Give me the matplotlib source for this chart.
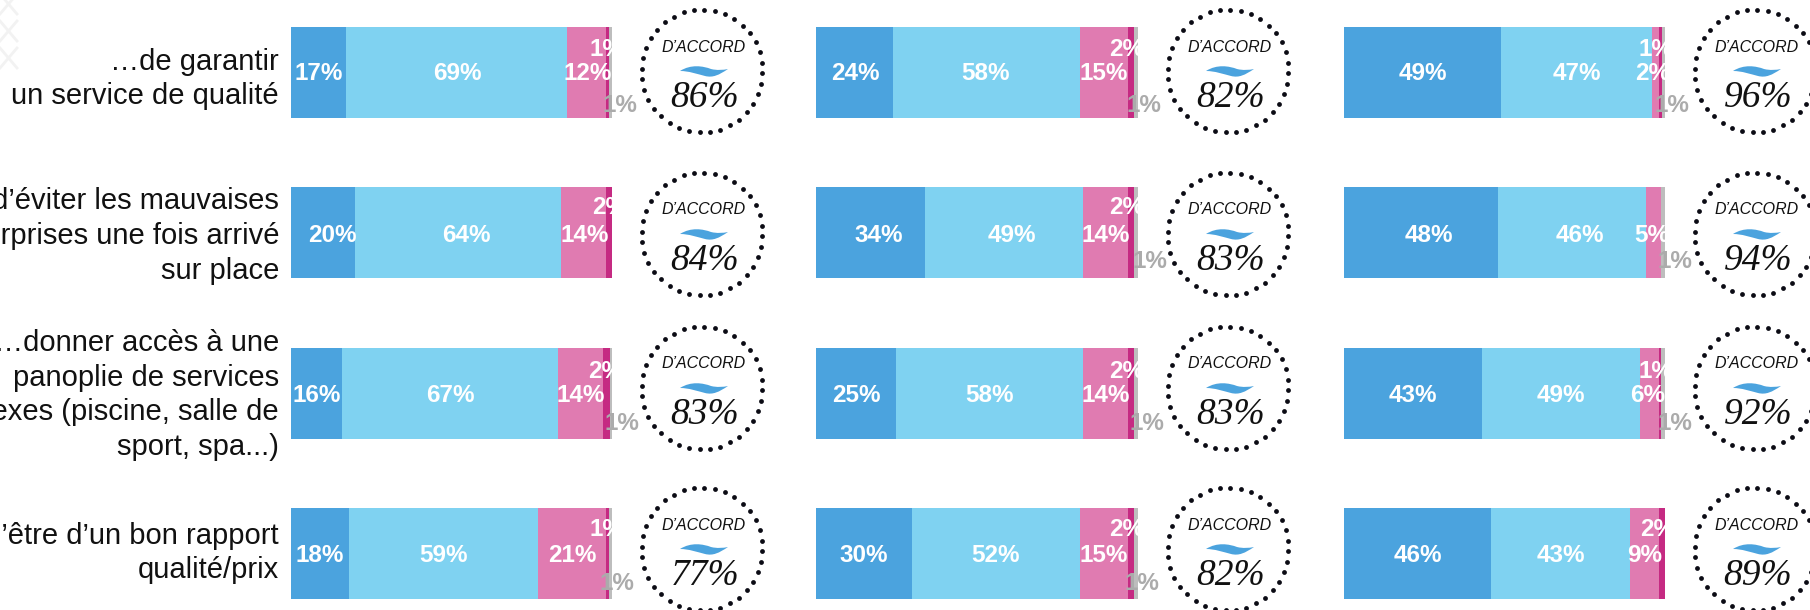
import numpy as np
from matplotlib import pyplot as plt
from matplotlib.patches import PathPatch
from matplotlib.path import Path

plt.rcParams['font.family'] = ['Liberation Sans', 'DejaVu Sans']

row_labels = ["\u2026de garantir\nun service de qualité",
              "\u2026d\u2019éviter les mauvaises\nsurprises une fois arrivé\nsur place",
              "\u2026donner accès à une\npanoplie de services\nannexes (piscine, salle de\nsport, spa...)",
              "\u2026d\u2019être d\u2019un bon rapport\nqualité/prix"]

# segment widths (% of each bar), one list per segment
col1_tout_fait = [17.1, 20.0, 15.9, 18.1]
col1_plutot = [68.8, 64.1, 67.3, 58.9]
col1_plutot_pas = [12.1, 14.0, 14.0, 21.1]
col1_pas_du_tout = [1.2, 1.9, 2.1, 1.1]
col1_nsp = [0.8, 0.0, 0.7, 0.8]

col2_tout_fait = [24.0, 33.9, 24.9, 30.0]
col2_plutot = [58.0, 49.2, 58.2, 52.0]
col2_plutot_pas = [15.1, 14.0, 14.0, 15.1]
col2_pas_du_tout = [1.9, 1.9, 1.9, 1.9]
col2_nsp = [1.0, 1.0, 1.0, 1.0]

col3_tout_fait = [49.0, 47.9, 42.9, 45.9]
col3_plutot = [47.0, 46.1, 49.2, 43.2]
col3_plutot_pas = [2.2, 4.9, 6.0, 9.1]
col3_pas_du_tout = [0.8, 0.0, 0.8, 1.9]
col3_nsp = [1.0, 1.1, 1.0, 0.0]

# printed labels
col1_labels = [[17, 69, 12, 1, 1], [20, 64, 14, 2, None], [16, 67, 14, 2, 1], [18, 59, 21, 1, 1]]
col2_labels = [[24, 58, 15, 2, 1], [34, 49, 14, 2, 1], [25, 58, 14, 2, 1], [30, 52, 15, 2, 1]]
col3_labels = [[49, 47, 2, 1, 1], [48, 46, 5, None, 1], [43, 49, 6, 1, 1], [46, 43, 9, 2, None]]

col1_accord = [86, 84, 83, 77]
col2_accord = [82, 83, 83, 82]
col3_accord = [96, 94, 92, 89]

colors = ['#4BA3DE', '#7FD2F1', '#E07BB1', '#C52A82', '#BDBDBD']

# layout, in pixels of the 1810x610 picture
W, H = 1810, 610
bar_tops = [27, 187, 348, 508]
bar_h = 90.5
bar_lefts = [291, 816, 1344]
bar_rights = [612, 1137.5, 1665]
circle_x = [702, 1228, 1755]
circle_y = [71, 234, 388, 549]

# label centres, per column then per row then per segment
label_x = [[[319, 457, 588, 607, 620], [332, 466, 585, 610, 0],
            [317, 450, 581, 606, 622], [320, 444, 572, 607, 617]],
           [[855, 986, 1104, 1127, 1144], [879, 1012, 1106, 1127, 1150],
            [856, 990, 1106, 1127, 1147], [864, 996, 1104, 1127, 1142]],
           [[1423, 1577, 1653, 1656, 1672], [1429, 1580, 1652, 0, 1675],
            [1413, 1561, 1648, 1656, 1675], [1418, 1561, 1645, 1658, 0]]]
small_y = [50, 208, 371, 529]
grey_y = [105, 262, 423, 583]
label_y = [74, 235, 395, 555]
text_y = [79, 236, 395, 553]

columns = [(col1_tout_fait, col1_plutot, col1_plutot_pas, col1_pas_du_tout, col1_nsp),
           (col2_tout_fait, col2_plutot, col2_plutot_pas, col2_pas_du_tout, col2_nsp),
           (col3_tout_fait, col3_plutot, col3_plutot_pas, col3_pas_du_tout, col3_nsp)]
all_labels = [col1_labels, col2_labels, col3_labels]
all_accord = [col1_accord, col2_accord, col3_accord]

fig = plt.figure(figsize=(W/100, H/100), dpi=100)

# one axes per column for the bars
for c in range(3):
    ax = fig.add_axes([bar_lefts[c]/W, 0, (bar_rights[c]-bar_lefts[c])/W, 1])
    ax.set_xlim(0, 100)
    ax.set_ylim(H, 0)
    ax.axis('off')
    centres = np.array(bar_tops) + bar_h/2
    left = np.zeros(4)
    for s in range(5):
        ax.barh(centres, columns[c][s], height=bar_h, left=left, color=colors[s],
                edgecolor='none')
        left = left + np.array(columns[c][s])

# overlay in pixel coordinates for everything else
over = fig.add_axes([0, 0, 1, 1], zorder=5)
over.set_xlim(0, W)
over.set_ylim(H, 0)
over.axis('off')
over.patch.set_alpha(0)

# faint lattice in the corner
for k in range(0, 3):
    over.plot([0, 17], [k*27-6, k*27+14], color='#f2f2f2', lw=2)
    over.plot([0, 17], [k*27+14, k*27-6], color='#f2f2f2', lw=2)

for r in range(4):
    over.text(279, text_y[r], row_labels[r], ha='right', va='center', fontsize=21,
              color='#111111', linespacing=1.3, clip_on=True)

n_dots = 36
theta = np.linspace(0, 2*np.pi, n_dots, endpoint=False) + 0.04
for c in range(3):
    for r in range(4):
        # percentages in the bars
        for s in range(5):
            val = all_labels[c][r][s]
            if val is None:
                continue
            y = label_y[r]
            col = 'white'
            if s == 3:
                y = small_y[r]
            if s == 4:
                y = grey_y[r]
                col = '#ABABAB'
            over.text(label_x[c][r][s], y, "%d%%" % val, ha='center', va='center',
                      fontsize=17.5, fontweight='bold', color=col)

        cx = circle_x[c]
        cy = circle_y[r]
        over.scatter(cx + 60.5*np.cos(theta), cy + 61.5*np.sin(theta), s=12, color='#0b0b14',
                     linewidths=0)
        over.text(cx + 2, cy - 24, "D\u2019ACCORD", ha='center', va='center', fontsize=11.5,
                  style='italic', color='#111111')

        # little wave
        shape = [(-23, 0), (-12, -7), (0, -5), (8, -2), (14, -0.5), (20, -1), (25, -2),
                 (16, 4), (10, 7), (2, 5), (-6, 3), (-14, 0), (-23, 0)]
        verts = [(cx + 1 + p[0], cy + p[1]) for p in shape]
        codes = [Path.MOVETO] + [Path.CURVE4]*12
        over.add_patch(PathPatch(Path(verts, codes), facecolor='#4BA3DE', edgecolor='none'))

        over.text(cx + 3, cy + 27, "%d%%" % all_accord[c][r], ha='center', va='center',
                  fontsize=27, style='italic', family='Liberation Serif', color='#111111')

fig.savefig("out.png", dpi=100)
plt.close()
